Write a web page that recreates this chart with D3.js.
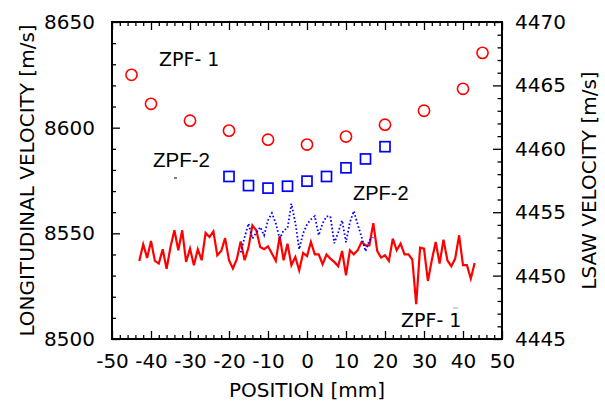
<!DOCTYPE html>
<html>
<head>
<meta charset="utf-8">
<script src="https://cdn.jsdelivr.net/npm/d3@7"></script>
<style>
  body { margin: 0; background: #fff; }
  text { font-family: "DejaVu Sans", sans-serif; fill: #000; }
</style>
</head>
<body>
<div id="fig"></div>
<script>
// ZPF-1 longitudinal velocity (circles, left axis)
var zpf1Pos = [-45, -40, -30, -20, -10, 0, 10, 20, 30, 40, 45];
var zpf1Long = [8625, 8611.3, 8603.3, 8598.6, 8594.3, 8592, 8595.8, 8601.4, 8608, 8618.4, 8635.4];

// ZPF-2 longitudinal velocity (squares, left axis)
var zpf2Pos = [-20, -15, -10, -5, 0, 5, 10, 15, 20];
var zpf2Long = [8576.9, 8572.6, 8571.4, 8572.3, 8574.7, 8576.9, 8581, 8585.2, 8591];

// ZPF-1 LSAW velocity (red solid line, right axis)
var lsaw1Pos = [-43, -42, -41, -40, -39, -38, -37, -36, -35, -34, -33, -32, -31, -30, -29, -28, -27, -26, -25, -24,
  -23, -22, -21, -20, -19, -18, -17, -16, -15, -14, -13, -12, -11, -10, -9, -8, -7, -6, -5, -4, -3, -2, -1,
  0, 1, 2, 3, 4, 5, 6, 7, 8, 9, 10, 11, 12, 13, 14, 15, 16, 17, 18, 19, 20, 21, 22, 23, 24, 25, 26, 27,
  28, 29, 30, 31, 32, 33, 34, 35, 36, 37, 38, 39, 40, 41, 42, 43];
var lsaw1 = [4451.16, 4452.47, 4451.39, 4452.73, 4451.16, 4450.95, 4452.08, 4450.53, 4452.26, 4453.57,
  4452.00, 4453.57, 4451.08, 4452.13, 4450.82, 4452.08, 4451.21, 4453.36, 4453.04, 4453.49,
  4451.60, 4451.94, 4452.96, 4451.21, 4450.56, 4451.29, 4452.70, 4451.21, 4452.21, 4453.96,
  4453.57, 4452.26, 4452.08, 4452.31, 4451.74, 4451.16, 4453.10, 4451.21, 4452.52, 4450.82,
  4451.47, 4450.42, 4451.78, 4451.53, 4452.65, 4451.68, 4451.68, 4450.90, 4451.66, 4451.34,
  4451.08, 4450.74, 4451.94, 4450.03, 4452.00, 4451.68, 4452.00, 4452.65, 4452.39, 4452.39,
  4454.14, 4451.94, 4451.42, 4451.60, 4451.16, 4452.92, 4452.00, 4452.52, 4451.68, 4451.68,
  4451.27, 4447.75, 4452.21, 4452.13, 4449.58, 4451.21, 4452.65, 4450.95, 4452.84, 4451.21,
  4450.74, 4451.34, 4453.18, 4450.82, 4450.82, 4449.77, 4451.00];

// ZPF-2 LSAW velocity (blue dotted line, right axis)
var lsaw2Pos = [-17, -16, -15, -14, -13, -12, -11, -10, -9, -8, -7, -6, -5, -4, -3, -2, -1,
  0, 1, 2, 3, 4, 5, 6, 7, 8, 9, 10, 11, 12, 13, 14, 15, 16, 17];
var lsaw2 = [4451.82, 4453.02, 4454.10, 4452.92, 4453.37, 4453.83, 4453.18, 4454.36, 4454.93, 4454.12,
  4452.92, 4453.57, 4453.73, 4455.67, 4454.20, 4452.08, 4453.33, 4454.04, 4454.43, 4454.69,
  4453.18, 4454.12, 4454.67, 4454.67, 4452.55, 4453.41, 4454.36, 4452.63, 4454.20, 4455.09,
  4454.04, 4453.04, 4451.92, 4452.78, 4453.02];

// tick values
var xMajor = [-50, -40, -30, -20, -10, 0, 10, 20, 30, 40, 50];
var xMinor = [-48, -46, -44, -42, -38, -36, -34, -32, -28, -26, -24, -22, -18, -16, -14, -12, -8, -6, -4, -2,
  2, 4, 6, 8, 12, 14, 16, 18, 22, 24, 26, 28, 32, 34, 36, 38, 42, 44, 46, 48];
var yLMajor = [8500, 8550, 8600, 8650];
var yLMinor = [8510, 8520, 8530, 8540, 8560, 8570, 8580, 8590, 8610, 8620, 8630, 8640];
var yRMajor = [4445, 4450, 4455, 4460, 4465, 4470];
var yRMinor = [4446, 4447, 4448, 4449, 4451, 4452, 4453, 4454, 4456, 4457, 4458, 4459,
  4461, 4462, 4463, 4464, 4466, 4467, 4468, 4469];

var margin = {top: 22, right: 103, bottom: 67, left: 112},
    width = 605 - margin.left - margin.right,
    height = 406 - margin.top - margin.bottom;

var svg = d3.select("#fig").append("svg")
    .attr("width", 605)
    .attr("height", 406)
  .append("g")
    .attr("transform", "translate(" + margin.left + "," + margin.top + ")");

var x = d3.scaleLinear().domain([-50, 50]).range([0, width]);
var yL = d3.scaleLinear().domain([8500, 8650]).range([height, 0]);
var yR = d3.scaleLinear().domain([4445, 4470]).range([height, 0]);

function styleAxis(g) {
  g.select(".domain").remove();
  g.selectAll(".tick line").attr("stroke", "#000").attr("stroke-width", 1.3);
  g.selectAll(".tick text").style("font-size", "20px").style("font-family", "DejaVu Sans");
}

// bottom axis with labels
svg.append("g")
    .attr("transform", "translate(0," + height + ")")
    .call(d3.axisBottom(x).tickValues(xMajor).tickSize(-8).tickSizeOuter(0).tickPadding(15)
      .tickFormat(function(d) { return String(d); }))
    .call(styleAxis);
svg.append("g")
    .attr("transform", "translate(0," + height + ")")
    .call(d3.axisBottom(x).tickValues(xMinor).tickSize(-4).tickFormat(""))
    .call(styleAxis);
// top mirrored ticks
svg.append("g")
    .call(d3.axisTop(x).tickValues(xMajor).tickSize(-8).tickFormat(""))
    .call(styleAxis);
svg.append("g")
    .call(d3.axisTop(x).tickValues(xMinor).tickSize(-4).tickFormat(""))
    .call(styleAxis);

// left axis
svg.append("g")
    .call(d3.axisLeft(yL).tickValues(yLMajor).tickSize(-8).tickPadding(17)
      .tickFormat(function(d) { return String(d); }))
    .call(styleAxis);
svg.append("g")
    .call(d3.axisLeft(yL).tickValues(yLMinor).tickSize(-4).tickFormat(""))
    .call(styleAxis);

// right axis
svg.append("g")
    .attr("transform", "translate(" + width + ",0)")
    .call(d3.axisRight(yR).tickValues(yRMajor).tickSize(-9).tickPadding(13)
      .tickFormat(function(d) { return String(d); }))
    .call(styleAxis);
svg.append("g")
    .attr("transform", "translate(" + width + ",0)")
    .call(d3.axisRight(yR).tickValues(yRMinor).tickSize(-4.5).tickFormat(""))
    .call(styleAxis);

// frame
svg.append("rect")
    .attr("x", 0).attr("y", 0)
    .attr("width", width).attr("height", height)
    .attr("fill", "none")
    .attr("stroke", "#000")
    .attr("stroke-width", 2);

// LSAW lines
var lineR = d3.line()
    .x(function(d) { return x(d[0]); })
    .y(function(d) { return yR(d[1]); });

svg.append("path")
    .datum(lsaw1Pos.map(function(p, i) { return [p, lsaw1[i]]; }))
    .attr("d", lineR)
    .attr("fill", "none")
    .attr("stroke", "#ff0000")
    .attr("stroke-width", 2.2);

svg.append("path")
    .datum(lsaw2Pos.map(function(p, i) { return [p, lsaw2[i]]; }))
    .attr("d", lineR)
    .attr("fill", "none")
    .attr("stroke", "#0000ff")
    .attr("stroke-width", 1.8)
    .attr("stroke-dasharray", "1.6,2.2");

// longitudinal velocity markers
svg.append("g")
  .selectAll("circle")
  .data(zpf1Pos.map(function(p, i) { return [p, zpf1Long[i]]; }))
  .enter().append("circle")
    .attr("cx", function(d) { return x(d[0]); })
    .attr("cy", function(d) { return yL(d[1]); })
    .attr("r", 5.6)
    .attr("fill", "none")
    .attr("stroke", "#ff0000")
    .attr("stroke-width", 1.6);

svg.append("g")
  .selectAll("rect")
  .data(zpf2Pos.map(function(p, i) { return [p, zpf2Long[i]]; }))
  .enter().append("rect")
    .attr("x", function(d) { return x(d[0]) - 5; })
    .attr("y", function(d) { return yL(d[1]) - 5; })
    .attr("width", 10)
    .attr("height", 10)
    .attr("fill", "none")
    .attr("stroke", "#0000ff")
    .attr("stroke-width", 1.7);

// series labels (page coordinates)
var page = d3.select("svg");
page.append("text").attr("x", 159).attr("y", 66).style("font-size", "19px").text("ZPF- 1");
page.append("text").attr("x", 401).attr("y", 327).style("font-size", "19px").text("ZPF- 1");
page.append("text").attr("x", 153).attr("y", 167)
    .style("font-family", "Liberation Sans").style("font-size", "20.5px").text("ZPF-2");
page.append("text").attr("x", 353).attr("y", 200)
    .style("font-family", "Liberation Sans").style("font-size", "20px").text("ZPF-2");
// small stray marks in the original figure
page.append("line").attr("x1", 174).attr("x2", 177).attr("y1", 178).attr("y2", 178)
    .attr("stroke", "#000").attr("stroke-width", 1);
page.append("line").attr("x1", 453).attr("x2", 458).attr("y1", 308).attr("y2", 308)
    .attr("stroke", "#aaa").attr("stroke-width", 1);

// axis titles
svg.append("text")
    .attr("transform", "translate(" + (27 - margin.left) + "," + (height / 2) + ") rotate(-90)")
    .attr("dy", "0.35em")
    .style("text-anchor", "middle")
    .style("font-size", "20px")
    .text("LONGITUDINAL VELOCITY [m/s]");

svg.append("text")
    .attr("transform", "translate(" + (width + 87) + "," + (height / 2) + ") rotate(-90)")
    .attr("dy", "0.35em")
    .style("text-anchor", "middle")
    .style("font-size", "20px")
    .text("LSAW VELOCITY [m/s]");

svg.append("text")
    .attr("x", width / 2)
    .attr("y", height + 58)
    .style("text-anchor", "middle")
    .style("font-size", "20px")
    .text("POSITION [mm]");
</script>
</body>
</html>
